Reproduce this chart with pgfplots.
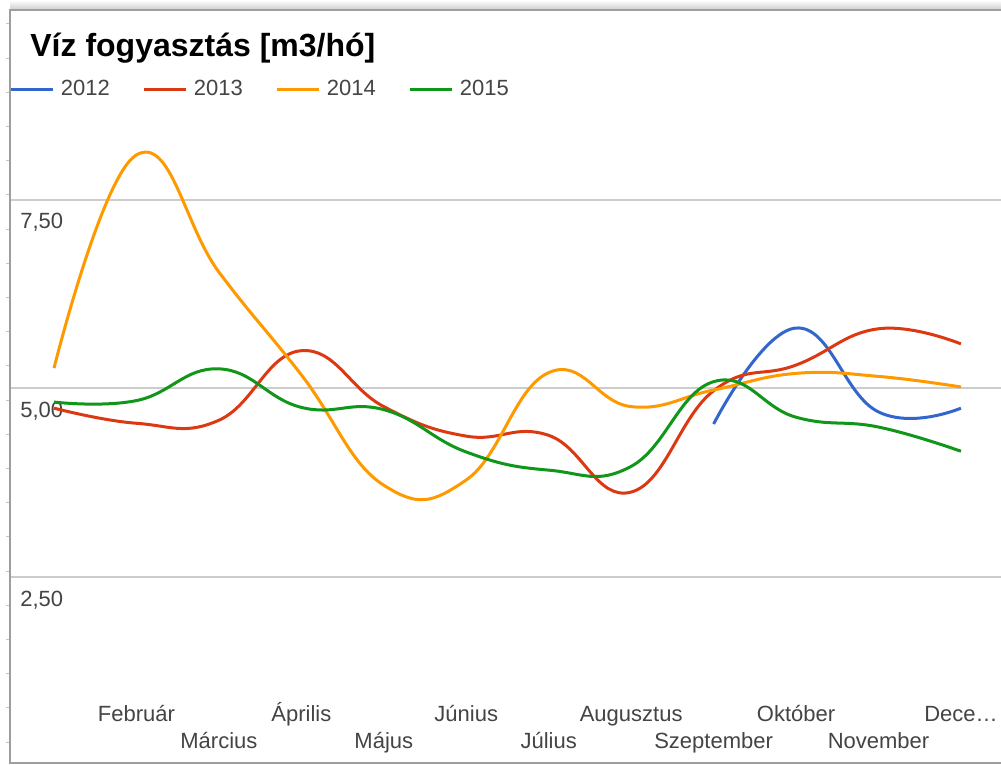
\documentclass[border=0pt]{standalone}
\usepackage{fontspec}
\setmainfont{Liberation Sans}
\usepackage{pgfplots}
\pgfplotsset{compat=1.18}
\definecolor{gblue}{HTML}{3366CC}
\definecolor{gred}{HTML}{DC3912}
\definecolor{gorange}{HTML}{FF9900}
\definecolor{ggreen}{HTML}{109618}
\definecolor{labelgray}{HTML}{444444}
\definecolor{gridgray}{HTML}{CCCCCC}
\definecolor{framegray}{HTML}{9E9E9E}
\begin{document}
\begin{tikzpicture}
\path[use as bounding box] (0,0) rectangle (500.5pt,382.5pt);
\fill[white] (0,0) rectangle (500.5pt,382.5pt);
\shade[top color=white, bottom color=black!18] (5pt,378pt) rectangle (500.5pt,382.5pt);
\foreach \i in {0,...,21} \draw[black!22, line width=0.5pt] (3pt,{(741-34.2*\i)*0.5pt}) -- (4.6pt,{(741-34.2*\i)*0.5pt});
\begin{axis}[
  at={(5pt,1pt)}, anchor=south west,
  scale only axis, width=495.5pt, height=376.5pt,
  xmin=-0.534, xmax=11.486, ymin=0.046, ymax=10.007,
  axis line style={draw=none},
  ytick={2.5,5,7.5},
  ymajorgrids, grid style={gridgray, line width=1pt},
  major tick length=0pt,
  xtick={1,3,5,7,9,11},
  xticklabels={Február,Április,Június,Augusztus,Október,Dece…},
  extra x ticks={2,4,6,8,10},
  extra x tick labels={Március,Május,Július,Szeptember,November},
  extra x tick style={grid=none, xticklabel style={yshift=-13.5pt}},
  xticklabel style={anchor=base, inner sep=0pt, yshift=20.5pt, font=\fontsize{11}{13}\selectfont, text=labelgray},
  yticklabel style={anchor=base west, inner sep=0pt, xshift=5pt, yshift=-14.5pt, font=\fontsize{11}{13}\selectfont, text=labelgray},
  /pgf/number format/fixed, /pgf/number format/fixed zerofill, /pgf/number format/precision=2,
  /pgf/number format/use comma, /pgf/number format/assume math mode=true,
  legend style={at={(0,0.8950)}, anchor=west, draw=none, fill=none, inner sep=0pt, outer sep=0pt,
    font=\fontsize{11}{13}\selectfont, text=labelgray, legend columns=4,
    /tikz/every even column/.append style={column sep=16.5pt},
    /tikz/every odd column/.append style={column sep=3pt},
    nodes={inner sep=0pt}},
  legend image code/.code={\draw[#1, line width=1.5pt] (0pt,0pt) -- (21pt,0pt);},
  every axis plot/.append style={line width=1.5pt, smooth, tension=0.75},
]
\addplot[gblue] coordinates {(8,4.53)(9,5.80)(10,4.69)(11,4.74)};
\addlegendentry{2012}
\addplot[gred] coordinates {(0,4.74)(1,4.54)(2,4.58)(3,5.50)(4,4.76)(5,4.37)(6,4.38)(7,3.63)(8,4.97)(9,5.31)(10,5.79)(11,5.59)};
\addlegendentry{2013}
\addplot[gorange] coordinates {(0,5.27)(1,8.09)(2,6.54)(3,5.18)(4,3.72)(5,3.79)(6,5.21)(7,4.76)(8,4.98)(9,5.20)(10,5.16)(11,5.02)};
\addlegendentry{2014}
\addplot[ggreen] coordinates {(0,4.82)(1,4.84)(2,5.26)(3,4.75)(4,4.72)(5,4.16)(6,3.92)(7,3.97)(8,5.09)(9,4.62)(10,4.49)(11,4.17)};
\addlegendentry{2015}
\end{axis}
\node[anchor=base west, inner sep=0pt, font=\bfseries\fontsize{16}{19}\selectfont] at (15pt,354pt) {Víz fogyasztás [m3/hó]};
\draw[framegray, line width=1pt] (500.5pt,377.5pt) -- (5pt,377.5pt) -- (5pt,1pt) -- (500.5pt,1pt);
\end{tikzpicture}
\end{document}
